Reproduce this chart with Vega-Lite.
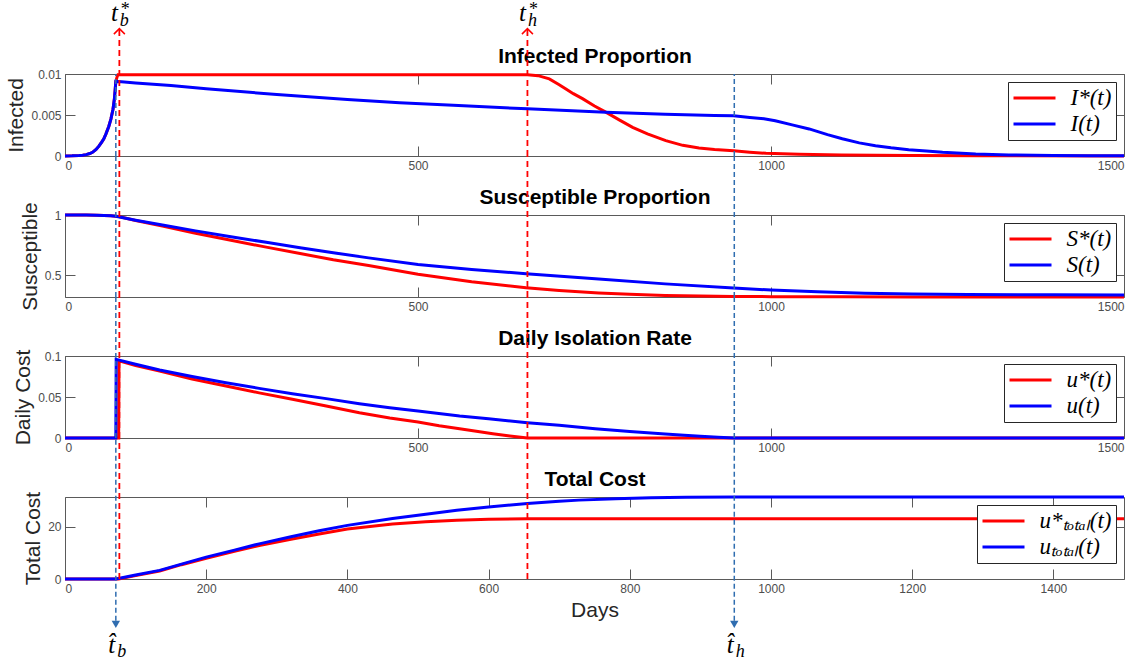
{
"$schema": "https://vega.github.io/schema/vega-lite/v6.json",
"padding": {"left": 5, "top": 0, "right": 5, "bottom": 5},
"autosize": {"type": "pad"},
"spacing": 59,
"bounds": "flush",
"config": {
 "font": "Liberation Sans",
 "view": {"stroke": "#5a5a5a", "strokeWidth": 1},
 "axis": {"labelFont": "Liberation Sans", "labelFontSize": 12, "labelColor": "#4d4d4d", "titleFont": "Liberation Sans", "titleFontSize": 21, "titleColor": "#262626", "titleFontWeight": "normal", "titlePadding": 4, "tickColor": "#5a5a5a", "tickSize": -10, "labelPadding": 14, "domain": false, "grid": false, "format": ".4~g"},
 "legend": {"orient": "top-right", "offset": 8, "title": null, "padding": 4, "strokeColor": "#262626", "fillColor": "white", "symbolType": "M-2,0H2", "symbolSize": 441, "symbolStrokeWidth": 3, "symbolOffset": 10.5, "labelOffset": 24, "labelFont": "Liberation Serif", "labelFontStyle": "italic", "labelFontSize": 23, "labelColor": "#000000", "rowPadding": 2, "labelLimit": 400}
},
"datasets": {
 "I": [
  {"day":0,"series":"I*(t)","value":0.00001},{"day":10,"series":"I*(t)","value":0.00002},{"day":20,"series":"I*(t)","value":0.00005},{"day":25,"series":"I*(t)","value":0.0001},{"day":30,"series":"I*(t)","value":0.00017},{"day":35,"series":"I*(t)","value":0.0003},{"day":39,"series":"I*(t)","value":0.00045},{"day":44,"series":"I*(t)","value":0.0008},{"day":48,"series":"I*(t)","value":0.0012},{"day":52,"series":"I*(t)","value":0.0017},{"day":55,"series":"I*(t)","value":0.0021},{"day":58,"series":"I*(t)","value":0.0027},{"day":62,"series":"I*(t)","value":0.0036},{"day":65,"series":"I*(t)","value":0.0045},{"day":68,"series":"I*(t)","value":0.0057},{"day":70,"series":"I*(t)","value":0.007},{"day":71,"series":"I*(t)","value":0.008},{"day":72,"series":"I*(t)","value":0.0091},
  {"day":74,"series":"I*(t)","value":0.0097},{"day":75,"series":"I*(t)","value":0.0099},{"day":200,"series":"I*(t)","value":0.0099},{"day":400,"series":"I*(t)","value":0.0099},{"day":655,"series":"I*(t)","value":0.0099},{"day":670,"series":"I*(t)","value":0.0098},{"day":686,"series":"I*(t)","value":0.0094},{"day":700,"series":"I*(t)","value":0.0087},{"day":709,"series":"I*(t)","value":0.0082},{"day":720,"series":"I*(t)","value":0.0076},{"day":733,"series":"I*(t)","value":0.007},{"day":750,"series":"I*(t)","value":0.0061},{"day":766,"series":"I*(t)","value":0.00535},{"day":785,"series":"I*(t)","value":0.0044},{"day":804,"series":"I*(t)","value":0.0035},{"day":825,"series":"I*(t)","value":0.0027},{"day":851,"series":"I*(t)","value":0.00187},{"day":875,"series":"I*(t)","value":0.0013},{"day":898,"series":"I*(t)","value":0.00098},{"day":920,"series":"I*(t)","value":0.0008},{"day":947,"series":"I*(t)","value":0.00065},{"day":970,"series":"I*(t)","value":0.00047},{"day":993,"series":"I*(t)","value":0.00033},{"day":1040,"series":"I*(t)","value":0.0002},{"day":1100,"series":"I*(t)","value":0.00012},{"day":1200,"series":"I*(t)","value":0.00006},{"day":1300,"series":"I*(t)","value":0.00003},{"day":1500,"series":"I*(t)","value":0.00001},
  {"day":0,"series":"I(t)","value":0.00001},{"day":10,"series":"I(t)","value":0.00002},{"day":20,"series":"I(t)","value":0.00005},{"day":25,"series":"I(t)","value":0.0001},{"day":30,"series":"I(t)","value":0.00017},{"day":35,"series":"I(t)","value":0.0003},{"day":39,"series":"I(t)","value":0.00045},{"day":44,"series":"I(t)","value":0.0008},{"day":48,"series":"I(t)","value":0.0012},{"day":52,"series":"I(t)","value":0.0017},{"day":55,"series":"I(t)","value":0.0021},{"day":58,"series":"I(t)","value":0.0027},{"day":62,"series":"I(t)","value":0.0036},{"day":65,"series":"I(t)","value":0.0045},{"day":68,"series":"I(t)","value":0.0057},{"day":70,"series":"I(t)","value":0.007},{"day":71,"series":"I(t)","value":0.008},{"day":72,"series":"I(t)","value":0.0091},
  {"day":80,"series":"I(t)","value":0.00905},{"day":100,"series":"I(t)","value":0.0089},{"day":150,"series":"I(t)","value":0.0086},{"day":200,"series":"I(t)","value":0.0082},{"day":300,"series":"I(t)","value":0.0075},{"day":400,"series":"I(t)","value":0.0069},{"day":474,"series":"I(t)","value":0.0065},{"day":550,"series":"I(t)","value":0.0062},{"day":655,"series":"I(t)","value":0.00575},{"day":766,"series":"I(t)","value":0.00535},{"day":850,"series":"I(t)","value":0.0051},{"day":920,"series":"I(t)","value":0.00495},{"day":947,"series":"I(t)","value":0.0049},{"day":970,"series":"I(t)","value":0.0047},{"day":990,"series":"I(t)","value":0.00455},{"day":1006,"series":"I(t)","value":0.0043},{"day":1030,"series":"I(t)","value":0.0038},{"day":1054,"series":"I(t)","value":0.0033},{"day":1080,"series":"I(t)","value":0.0026},{"day":1101,"series":"I(t)","value":0.0021},{"day":1125,"series":"I(t)","value":0.0016},{"day":1148,"series":"I(t)","value":0.00126},{"day":1170,"series":"I(t)","value":0.001},{"day":1195,"series":"I(t)","value":0.00077},{"day":1220,"series":"I(t)","value":0.0006},{"day":1243,"series":"I(t)","value":0.00045},{"day":1290,"series":"I(t)","value":0.00024},{"day":1337,"series":"I(t)","value":0.00012},{"day":1400,"series":"I(t)","value":0.00007},{"day":1450,"series":"I(t)","value":0.00004},{"day":1500,"series":"I(t)","value":0.00003}
 ],
 "S": [
  {"day":0,"series":"S*(t)","value":1},{"day":30,"series":"S*(t)","value":0.9995},{"day":45,"series":"S*(t)","value":0.998},{"day":55,"series":"S*(t)","value":0.996},{"day":65,"series":"S*(t)","value":0.993},{"day":72,"series":"S*(t)","value":0.989},
  {"day":76,"series":"S*(t)","value":0.987},{"day":100,"series":"S*(t)","value":0.955},{"day":138,"series":"S*(t)","value":0.908},{"day":185,"series":"S*(t)","value":0.848},{"day":235,"series":"S*(t)","value":0.79},{"day":285,"series":"S*(t)","value":0.733},{"day":333,"series":"S*(t)","value":0.68},{"day":380,"series":"S*(t)","value":0.628},{"day":430,"series":"S*(t)","value":0.58},{"day":500,"series":"S*(t)","value":0.508},{"day":576,"series":"S*(t)","value":0.446},{"day":653,"series":"S*(t)","value":0.395},{"day":700,"series":"S*(t)","value":0.373},{"day":756,"series":"S*(t)","value":0.353},{"day":800,"series":"S*(t)","value":0.341},{"day":850,"series":"S*(t)","value":0.332},{"day":900,"series":"S*(t)","value":0.327},{"day":947,"series":"S*(t)","value":0.324},{"day":1000,"series":"S*(t)","value":0.322},{"day":1100,"series":"S*(t)","value":0.3205},{"day":1200,"series":"S*(t)","value":0.32},{"day":1500,"series":"S*(t)","value":0.3195},
  {"day":0,"series":"S(t)","value":1},{"day":30,"series":"S(t)","value":0.9995},{"day":45,"series":"S(t)","value":0.998},{"day":55,"series":"S(t)","value":0.996},{"day":65,"series":"S(t)","value":0.993},{"day":72,"series":"S(t)","value":0.989},
  {"day":100,"series":"S(t)","value":0.957},{"day":138,"series":"S(t)","value":0.917},{"day":185,"series":"S(t)","value":0.868},{"day":235,"series":"S(t)","value":0.82},{"day":285,"series":"S(t)","value":0.773},{"day":333,"series":"S(t)","value":0.728},{"day":380,"series":"S(t)","value":0.686},{"day":430,"series":"S(t)","value":0.644},{"day":500,"series":"S(t)","value":0.589},{"day":576,"series":"S(t)","value":0.548},{"day":653,"series":"S(t)","value":0.512},{"day":756,"series":"S(t)","value":0.468},{"day":850,"series":"S(t)","value":0.428},{"day":947,"series":"S(t)","value":0.394},{"day":1000,"series":"S(t)","value":0.377},{"day":1066,"series":"S(t)","value":0.362},{"day":1133,"series":"S(t)","value":0.351},{"day":1200,"series":"S(t)","value":0.344},{"day":1279,"series":"S(t)","value":0.339},{"day":1400,"series":"S(t)","value":0.337},{"day":1500,"series":"S(t)","value":0.336}
 ],
 "u": [
  {"day":0,"series":"u*(t)","value":0},{"day":76,"series":"u*(t)","value":0},{"day":76.5,"series":"u*(t)","value":0.094},{"day":100,"series":"u*(t)","value":0.0885},{"day":134,"series":"u*(t)","value":0.0817},{"day":180,"series":"u*(t)","value":0.072},{"day":228,"series":"u*(t)","value":0.0634},{"day":275,"series":"u*(t)","value":0.055},{"day":322,"series":"u*(t)","value":0.0472},{"day":370,"series":"u*(t)","value":0.039},{"day":417,"series":"u*(t)","value":0.0309},{"day":460,"series":"u*(t)","value":0.0245},{"day":500,"series":"u*(t)","value":0.0195},{"day":530,"series":"u*(t)","value":0.015},{"day":559,"series":"u*(t)","value":0.0114},{"day":585,"series":"u*(t)","value":0.008},{"day":606,"series":"u*(t)","value":0.0053},{"day":630,"series":"u*(t)","value":0.0025},{"day":655,"series":"u*(t)","value":0},{"day":1000,"series":"u*(t)","value":0},{"day":1500,"series":"u*(t)","value":0},
  {"day":0,"series":"u(t)","value":0},{"day":72,"series":"u(t)","value":0},{"day":72.5,"series":"u(t)","value":0.0959},{"day":100,"series":"u(t)","value":0.09},{"day":134,"series":"u(t)","value":0.0829},{"day":180,"series":"u(t)","value":0.075},{"day":228,"series":"u(t)","value":0.0675},{"day":275,"series":"u(t)","value":0.0605},{"day":322,"series":"u(t)","value":0.054},{"day":370,"series":"u(t)","value":0.048},{"day":417,"series":"u(t)","value":0.0419},{"day":460,"series":"u(t)","value":0.037},{"day":500,"series":"u(t)","value":0.0329},{"day":559,"series":"u(t)","value":0.0268},{"day":600,"series":"u(t)","value":0.0235},{"day":655,"series":"u(t)","value":0.0187},{"day":700,"series":"u(t)","value":0.0155},{"day":751,"series":"u(t)","value":0.0112},{"day":800,"series":"u(t)","value":0.0078},{"day":850,"series":"u(t)","value":0.0048},{"day":877,"series":"u(t)","value":0.0033},{"day":900,"series":"u(t)","value":0.0022},{"day":925,"series":"u(t)","value":0.001},{"day":948,"series":"u(t)","value":0},{"day":1000,"series":"u(t)","value":0},{"day":1500,"series":"u(t)","value":0}
 ],
 "U": [
  {"day":0,"series":"u*ₜₒₜₐₗ(t)","value":0},{"day":76,"series":"u*ₜₒₜₐₗ(t)","value":0},{"day":100,"series":"u*ₜₒₜₐₗ(t)","value":1.3},{"day":134,"series":"u*ₜₒₜₐₗ(t)","value":3.06},{"day":165,"series":"u*ₜₒₜₐₗ(t)","value":5.5},{"day":200,"series":"u*ₜₒₜₐₗ(t)","value":8.0},{"day":240,"series":"u*ₜₒₜₐₗ(t)","value":10.6},{"day":275,"series":"u*ₜₒₜₐₗ(t)","value":12.9},{"day":320,"series":"u*ₜₒₜₐₗ(t)","value":15.3},{"day":360,"series":"u*ₜₒₜₐₗ(t)","value":17.3},{"day":400,"series":"u*ₜₒₜₐₗ(t)","value":19.2},{"day":464,"series":"u*ₜₒₜₐₗ(t)","value":21.1},{"day":511,"series":"u*ₜₒₜₐₗ(t)","value":22.0},{"day":555,"series":"u*ₜₒₜₐₗ(t)","value":22.6},{"day":600,"series":"u*ₜₒₜₐₗ(t)","value":22.95},{"day":655,"series":"u*ₜₒₜₐₗ(t)","value":23.1},{"day":1000,"series":"u*ₜₒₜₐₗ(t)","value":23.1},{"day":1500,"series":"u*ₜₒₜₐₗ(t)","value":23.1},
  {"day":0,"series":"uₜₒₜₐₗ(t)","value":0},{"day":72,"series":"uₜₒₜₐₗ(t)","value":0},{"day":100,"series":"uₜₒₜₐₗ(t)","value":1.5},{"day":134,"series":"uₜₒₜₐₗ(t)","value":3.3},{"day":165,"series":"uₜₒₜₐₗ(t)","value":5.7},{"day":200,"series":"uₜₒₜₐₗ(t)","value":8.4},{"day":240,"series":"uₜₒₜₐₗ(t)","value":11.1},{"day":275,"series":"uₜₒₜₐₗ(t)","value":13.5},{"day":320,"series":"uₜₒₜₐₗ(t)","value":16.2},{"day":360,"series":"uₜₒₜₐₗ(t)","value":18.5},{"day":400,"series":"uₜₒₜₐₗ(t)","value":20.6},{"day":464,"series":"uₜₒₜₐₗ(t)","value":23.2},{"day":511,"series":"uₜₒₜₐₗ(t)","value":24.9},{"day":555,"series":"uₜₒₜₐₗ(t)","value":26.4},{"day":600,"series":"uₜₒₜₐₗ(t)","value":27.7},{"day":655,"series":"uₜₒₜₐₗ(t)","value":29.0},{"day":700,"series":"uₜₒₜₐₗ(t)","value":29.9},{"day":728,"series":"uₜₒₜₐₗ(t)","value":30.3},{"day":780,"series":"uₜₒₜₐₗ(t)","value":30.8},{"day":830,"series":"uₜₒₜₐₗ(t)","value":31.2},{"day":880,"series":"uₜₒₜₐₗ(t)","value":31.4},{"day":948,"series":"uₜₒₜₐₗ(t)","value":31.5},{"day":1500,"series":"uₜₒₜₐₗ(t)","value":31.5}
 ],
 "marks": [
  {"day":77,"kind":"opt","sub":"b"},{"day":655,"kind":"opt","sub":"h"},{"day":72,"kind":"base","sub":"b"},{"day":948,"kind":"base","sub":"h"}
 ]
},
"resolve": {"scale": {"color": "independent", "x": "independent", "y": "independent"}, "legend": {"color": "independent"}},
"vconcat": [
 {
  "width": 1059, "height": 82,
  "resolve": {"axis": {"x": "independent", "y": "independent"}},
  "layer": [
   {"data": {"name": "I"}, "transform": [{"filter": {"field": "series", "equal": "I*(t)"}}],
    "mark": {"type": "line", "strokeWidth": 3},
    "encoding": {
     "x": {"field": "day", "type": "quantitative", "scale": {"domain": [0,1500], "nice": false, "zero": false}, "axis": {"values": [0,500,1000,1500], "title": null}},
     "y": {"field": "value", "type": "quantitative", "scale": {"domain": [0,0.01], "nice": false, "zero": false}, "axis": {"values": [0,0.005,0.01], "title": "Infected"}},
     "color": {"field": "series", "type": "nominal", "scale": {"domain": ["I*(t)","I(t)"], "range": ["#ff0000","#0000ff"]}}
    }},
   {"data": {"name": "I"}, "transform": [{"filter": {"field": "series", "equal": "I(t)"}}],
    "mark": {"type": "line", "strokeWidth": 3},
    "encoding": {
     "x": {"field": "day", "type": "quantitative", "scale": {"domain": [0,1500], "nice": false, "zero": false}, "axis": null},
     "y": {"field": "value", "type": "quantitative", "scale": {"domain": [0,0.01], "nice": false, "zero": false}, "axis": null},
     "color": {"field": "series", "type": "nominal", "scale": {"domain": ["I*(t)","I(t)"], "range": ["#ff0000","#0000ff"]}}
    }},
   {"data": {"name": "marks"}, "transform": [{"filter": {"field": "kind", "equal": "base"}}],
    "mark": {"type": "rule", "color": "#2f6db0", "strokeWidth": 1.5, "strokeDash": [5,3], "clip": false},
    "encoding": {
     "x": {"field": "day", "type": "quantitative", "scale": {"domain": [0,1500], "nice": false, "zero": false}, "axis": {"orient": "top", "values": [0,500,1000,1500], "labels": false, "title": "Infected Proportion", "titleFontWeight": "bold", "titleColor": "#000000", "titlePadding": 7}},
     "y": {"datum": 0, "type": "quantitative", "scale": {"domain": [0,0.01], "nice": false, "zero": false}, "axis": {"orient": "right", "values": [0,0.005,0.01], "labels": false, "title": null}},
     "y2": {"datum": 0.01}
    }},
   {"data": {"name": "marks"}, "transform": [{"filter": {"field": "kind", "equal": "opt"}}],
    "mark": {"type": "rule", "color": "#ff0000", "strokeWidth": 1.8, "strokeDash": [6,4], "clip": false},
    "encoding": {
     "x": {"field": "day", "type": "quantitative", "scale": {"domain": [0,1500], "nice": false, "zero": false}, "axis": null},
     "y": {"datum": 0, "type": "quantitative", "scale": {"domain": [0,0.01], "nice": false, "zero": false}, "axis": null},
     "y2": {"datum": 0.01553}
    }},
   {"data": {"name": "marks"}, "transform": [{"filter": {"field": "kind", "equal": "opt"}}],
    "mark": {"type": "point", "shape": "M-1,1L0,0L1,1", "size": 121, "filled": false, "color": "#ff0000", "strokeWidth": 1.5, "opacity": 1, "clip": false},
    "encoding": {
     "x": {"field": "day", "type": "quantitative", "scale": {"domain": [0,1500], "nice": false, "zero": false}, "axis": null},
     "y": {"datum": 0.01553, "type": "quantitative", "scale": {"domain": [0,0.01], "nice": false, "zero": false}, "axis": null}
    }},
   {"data": {"name": "marks"}, "transform": [{"filter": {"field": "kind", "equal": "opt"}}],
    "mark": {"type": "text", "text": "t", "font": "Liberation Serif", "fontStyle": "italic", "fontSize": 25, "dx": -5, "align": "center", "baseline": "alphabetic", "color": "#000000", "clip": false},
    "encoding": {
     "x": {"field": "day", "type": "quantitative", "scale": {"domain": [0,1500], "nice": false, "zero": false}, "axis": null},
     "y": {"datum": 0.0165, "type": "quantitative", "scale": {"domain": [0,0.01], "nice": false, "zero": false}, "axis": null}
    }},
   {"data": {"name": "marks"}, "transform": [{"filter": {"field": "kind", "equal": "opt"}}],
    "mark": {"type": "text", "font": "Liberation Serif", "fontStyle": "italic", "fontSize": 18, "dx": 5, "dy": 5, "align": "center", "baseline": "alphabetic", "color": "#000000", "clip": false},
    "encoding": {
     "x": {"field": "day", "type": "quantitative", "scale": {"domain": [0,1500], "nice": false, "zero": false}, "axis": null},
     "y": {"datum": 0.0165, "type": "quantitative", "scale": {"domain": [0,0.01], "nice": false, "zero": false}, "axis": null},
     "text": {"field": "sub"}
    }},
   {"data": {"name": "marks"}, "transform": [{"filter": {"field": "kind", "equal": "opt"}}],
    "mark": {"type": "text", "text": "*", "font": "Liberation Serif", "fontSize": 18, "dx": 6, "dy": -6, "align": "center", "baseline": "alphabetic", "color": "#000000", "clip": false},
    "encoding": {
     "x": {"field": "day", "type": "quantitative", "scale": {"domain": [0,1500], "nice": false, "zero": false}, "axis": null},
     "y": {"datum": 0.0165, "type": "quantitative", "scale": {"domain": [0,0.01], "nice": false, "zero": false}, "axis": null}
    }}
  ]
 },
 {
  "width": 1059, "height": 82,
  "resolve": {"axis": {"x": "independent", "y": "independent"}},
  "layer": [
   {"data": {"name": "S"}, "transform": [{"filter": {"field": "series", "equal": "S*(t)"}}],
    "mark": {"type": "line", "strokeWidth": 3},
    "encoding": {
     "x": {"field": "day", "type": "quantitative", "scale": {"domain": [0,1500], "nice": false, "zero": false}, "axis": {"values": [0,500,1000,1500], "title": null}},
     "y": {"field": "value", "type": "quantitative", "scale": {"domain": [0.319,1], "nice": false, "zero": false}, "axis": {"values": [0.5,1], "title": "Susceptible"}},
     "color": {"field": "series", "type": "nominal", "scale": {"domain": ["S*(t)","S(t)"], "range": ["#ff0000","#0000ff"]}}
    }},
   {"data": {"name": "S"}, "transform": [{"filter": {"field": "series", "equal": "S(t)"}}],
    "mark": {"type": "line", "strokeWidth": 3},
    "encoding": {
     "x": {"field": "day", "type": "quantitative", "scale": {"domain": [0,1500], "nice": false, "zero": false}, "axis": null},
     "y": {"field": "value", "type": "quantitative", "scale": {"domain": [0.319,1], "nice": false, "zero": false}, "axis": null},
     "color": {"field": "series", "type": "nominal", "scale": {"domain": ["S*(t)","S(t)"], "range": ["#ff0000","#0000ff"]}}
    }},
   {"data": {"name": "marks"}, "transform": [{"filter": {"field": "kind", "equal": "base"}}],
    "mark": {"type": "rule", "color": "#2f6db0", "strokeWidth": 1.5, "strokeDash": [5,3], "clip": false},
    "encoding": {
     "x": {"field": "day", "type": "quantitative", "scale": {"domain": [0,1500], "nice": false, "zero": false}, "axis": {"orient": "top", "values": [0,500,1000,1500], "labels": false, "title": "Susceptible Proportion", "titleFontWeight": "bold", "titleColor": "#000000", "titlePadding": 7}},
     "y": {"datum": 0.319, "type": "quantitative", "scale": {"domain": [0.319,1], "nice": false, "zero": false}, "axis": {"orient": "right", "values": [0.5,1], "labels": false, "title": null}},
     "y2": {"datum": 1.49}
    }},
   {"data": {"name": "marks"}, "transform": [{"filter": {"field": "kind", "equal": "opt"}}],
    "mark": {"type": "rule", "color": "#ff0000", "strokeWidth": 1.8, "strokeDash": [6,4], "clip": false},
    "encoding": {
     "x": {"field": "day", "type": "quantitative", "scale": {"domain": [0,1500], "nice": false, "zero": false}, "axis": null},
     "y": {"datum": 0.319, "type": "quantitative", "scale": {"domain": [0.319,1], "nice": false, "zero": false}, "axis": null},
     "y2": {"datum": 1.49}
    }}
  ]
 },
 {
  "width": 1059, "height": 82,
  "resolve": {"axis": {"x": "independent", "y": "independent"}},
  "layer": [
   {"data": {"name": "u"}, "transform": [{"filter": {"field": "series", "equal": "u*(t)"}}],
    "mark": {"type": "line", "strokeWidth": 3},
    "encoding": {
     "x": {"field": "day", "type": "quantitative", "scale": {"domain": [0,1500], "nice": false, "zero": false}, "axis": {"values": [0,500,1000,1500], "title": null}},
     "y": {"field": "value", "type": "quantitative", "scale": {"domain": [0,0.1], "nice": false, "zero": false}, "axis": {"values": [0,0.05,0.1], "title": "Daily Cost"}},
     "color": {"field": "series", "type": "nominal", "scale": {"domain": ["u*(t)","u(t)"], "range": ["#ff0000","#0000ff"]}}
    }},
   {"data": {"name": "u"}, "transform": [{"filter": {"field": "series", "equal": "u(t)"}}],
    "mark": {"type": "line", "strokeWidth": 3},
    "encoding": {
     "x": {"field": "day", "type": "quantitative", "scale": {"domain": [0,1500], "nice": false, "zero": false}, "axis": null},
     "y": {"field": "value", "type": "quantitative", "scale": {"domain": [0,0.1], "nice": false, "zero": false}, "axis": null},
     "color": {"field": "series", "type": "nominal", "scale": {"domain": ["u*(t)","u(t)"], "range": ["#ff0000","#0000ff"]}}
    }},
   {"data": {"name": "marks"}, "transform": [{"filter": {"field": "kind", "equal": "base"}}],
    "mark": {"type": "rule", "color": "#2f6db0", "strokeWidth": 1.5, "strokeDash": [5,3], "clip": false},
    "encoding": {
     "x": {"field": "day", "type": "quantitative", "scale": {"domain": [0,1500], "nice": false, "zero": false}, "axis": {"orient": "top", "values": [0,500,1000,1500], "labels": false, "title": "Daily Isolation Rate", "titleFontWeight": "bold", "titleColor": "#000000", "titlePadding": 7}},
     "y": {"datum": 0, "type": "quantitative", "scale": {"domain": [0,0.1], "nice": false, "zero": false}, "axis": {"orient": "right", "values": [0,0.05,0.1], "labels": false, "title": null}},
     "y2": {"datum": 0.172}
    }},
   {"data": {"name": "marks"}, "transform": [{"filter": {"field": "kind", "equal": "opt"}}],
    "mark": {"type": "rule", "color": "#ff0000", "strokeWidth": 1.8, "strokeDash": [6,4], "clip": false},
    "encoding": {
     "x": {"field": "day", "type": "quantitative", "scale": {"domain": [0,1500], "nice": false, "zero": false}, "axis": null},
     "y": {"datum": 0, "type": "quantitative", "scale": {"domain": [0,0.1], "nice": false, "zero": false}, "axis": null},
     "y2": {"datum": 0.172}
    }}
  ]
 },
 {
  "width": 1059, "height": 82,
  "resolve": {"axis": {"x": "independent", "y": "independent"}},
  "layer": [
   {"data": {"name": "U"}, "transform": [{"filter": {"field": "series", "equal": "u*ₜₒₜₐₗ(t)"}}],
    "mark": {"type": "line", "strokeWidth": 3},
    "encoding": {
     "x": {"field": "day", "type": "quantitative", "scale": {"domain": [0,1500], "nice": false, "zero": false}, "axis": {"values": [0,200,400,600,800,1000,1200,1400], "title": "Days", "titlePadding": 5}},
     "y": {"field": "value", "type": "quantitative", "scale": {"domain": [0,31.5], "nice": false, "zero": false}, "axis": {"values": [0,20], "title": "Total Cost"}},
     "color": {"field": "series", "type": "nominal", "scale": {"domain": ["u*ₜₒₜₐₗ(t)","uₜₒₜₐₗ(t)"], "range": ["#ff0000","#0000ff"]}}
    }},
   {"data": {"name": "U"}, "transform": [{"filter": {"field": "series", "equal": "uₜₒₜₐₗ(t)"}}],
    "mark": {"type": "line", "strokeWidth": 3},
    "encoding": {
     "x": {"field": "day", "type": "quantitative", "scale": {"domain": [0,1500], "nice": false, "zero": false}, "axis": null},
     "y": {"field": "value", "type": "quantitative", "scale": {"domain": [0,31.5], "nice": false, "zero": false}, "axis": null},
     "color": {"field": "series", "type": "nominal", "scale": {"domain": ["u*ₜₒₜₐₗ(t)","uₜₒₜₐₗ(t)"], "range": ["#ff0000","#0000ff"]}}
    }},
   {"data": {"name": "marks"}, "transform": [{"filter": {"field": "kind", "equal": "base"}}],
    "mark": {"type": "rule", "color": "#2f6db0", "strokeWidth": 1.5, "strokeDash": [5,3], "clip": false},
    "encoding": {
     "x": {"field": "day", "type": "quantitative", "scale": {"domain": [0,1500], "nice": false, "zero": false}, "axis": {"orient": "top", "values": [0,200,400,600,800,1000,1200,1400], "labels": false, "title": "Total Cost", "titleFontWeight": "bold", "titleColor": "#000000", "titlePadding": 7}},
     "y": {"datum": -16, "type": "quantitative", "scale": {"domain": [0,31.5], "nice": false, "zero": false}, "axis": {"orient": "right", "values": [0,20], "labels": false, "title": null}},
     "y2": {"datum": 54.2}
    }},
   {"data": {"name": "marks"}, "transform": [{"filter": {"field": "kind", "equal": "opt"}}],
    "mark": {"type": "rule", "color": "#ff0000", "strokeWidth": 1.8, "strokeDash": [6,4], "clip": false},
    "encoding": {
     "x": {"field": "day", "type": "quantitative", "scale": {"domain": [0,1500], "nice": false, "zero": false}, "axis": null},
     "y": {"datum": 0, "type": "quantitative", "scale": {"domain": [0,31.5], "nice": false, "zero": false}, "axis": null},
     "y2": {"datum": 54.2}
    }},
   {"data": {"name": "marks"}, "transform": [{"filter": {"field": "kind", "equal": "base"}}],
    "mark": {"type": "point", "shape": "triangle-down", "size": 70, "filled": true, "color": "#2f6db0", "opacity": 1, "clip": false},
    "encoding": {
     "x": {"field": "day", "type": "quantitative", "scale": {"domain": [0,1500], "nice": false, "zero": false}, "axis": null},
     "y": {"datum": -17.4, "type": "quantitative", "scale": {"domain": [0,31.5], "nice": false, "zero": false}, "axis": null}
    }},
   {"data": {"name": "marks"}, "transform": [{"filter": {"field": "kind", "equal": "base"}}],
    "mark": {"type": "text", "text": "t̂", "font": "Liberation Serif", "fontStyle": "italic", "fontSize": 25, "dx": -4, "align": "center", "baseline": "alphabetic", "color": "#000000", "clip": false},
    "encoding": {
     "x": {"field": "day", "type": "quantitative", "scale": {"domain": [0,1500], "nice": false, "zero": false}, "axis": null},
     "y": {"datum": -28.3, "type": "quantitative", "scale": {"domain": [0,31.5], "nice": false, "zero": false}, "axis": null}
    }},
   {"data": {"name": "marks"}, "transform": [{"filter": {"field": "kind", "equal": "base"}}],
    "mark": {"type": "text", "font": "Liberation Serif", "fontStyle": "italic", "fontSize": 18, "dx": 6, "dy": 4, "align": "center", "baseline": "alphabetic", "color": "#000000", "clip": false},
    "encoding": {
     "x": {"field": "day", "type": "quantitative", "scale": {"domain": [0,1500], "nice": false, "zero": false}, "axis": null},
     "y": {"datum": -28.3, "type": "quantitative", "scale": {"domain": [0,31.5], "nice": false, "zero": false}, "axis": null},
     "text": {"field": "sub"}
    }}
  ]
 }
]
}
